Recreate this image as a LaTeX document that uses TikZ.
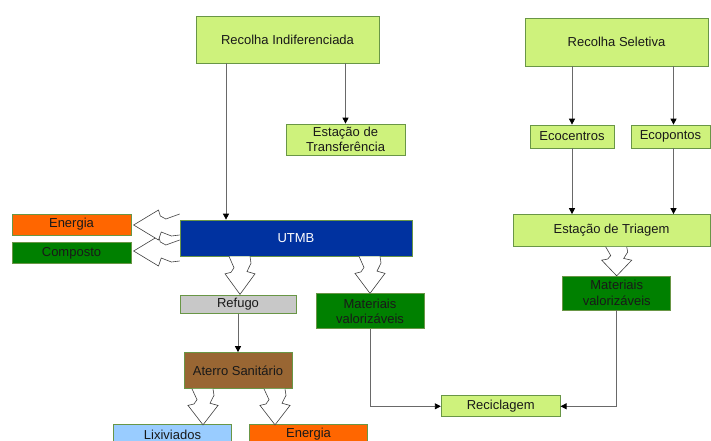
\documentclass[tikz,border=0pt]{standalone}
\usepackage{fontspec}
\setmainfont{Liberation Sans}
\usetikzlibrary{arrows.meta}
\definecolor{lgreen}{RGB}{206,242,124}
\definecolor{bord}{RGB}{105,150,70}
\definecolor{dblue}{RGB}{0,50,160}
\definecolor{orng}{RGB}{255,102,0}
\definecolor{dgreen}{RGB}{0,128,0}
\definecolor{lgray}{RGB}{200,200,200}
\definecolor{brwn}{RGB}{153,102,51}
\definecolor{lblue}{RGB}{153,204,255}
\definecolor{lineg}{RGB}{105,105,105}
\definecolor{txt}{RGB}{25,25,25}
\tikzset{
  box/.style={draw=bord, line width=0.7pt, inner sep=0pt, align=center,
    text=txt, font=\fontsize{13}{15.5}\selectfont},
  conn/.style={draw=lineg, line width=0.8pt,
    -{Triangle[length=6pt,width=6pt,black]}},
  jagline/.style={draw=black!75, line width=0.6pt, fill=white, line join=miter},
  jag/.pic={
    \draw[jagline] (-11,0) -- (-6,{0.30*#1}) -- (-9,{0.42*#1}) -- (-15,{0.46*#1})
      -- (0,#1) -- (15,{0.46*#1}) -- (7,{0.40*#1}) -- (11,{0.18*#1}) -- (10,0);
  }
}
\begin{document}
\begin{tikzpicture}[x=1pt,y=-1pt]
\useasboundingbox (0,0) rectangle (711,441);
% nodes
\node[box, fill=lgreen, minimum width=183pt, minimum height=47pt] (ri) at (287.5,39.5) {Recolha Indiferenciada};
\node[box, fill=lgreen, minimum width=119pt, minimum height=31pt] (et) at (345.5,139.5) {Estação de\\Transferência};
\node[box, fill=lgreen, minimum width=183pt, minimum height=48pt] (rs) at (616.5,42) {Recolha Seletiva};
\node[box, fill=lgreen, minimum width=84pt, minimum height=23pt] (eco) at (572,136.5) {Ecocentros};
\node[box, fill=lgreen, minimum width=79pt, minimum height=23pt] (ecp) at (670.5,136.5) {Ecopontos};
\node[box, fill=lgreen, minimum width=197pt, minimum height=32pt] (tri) at (611.5,230.5) {Estação de Triagem};
\node[box, fill=dgreen, minimum width=108pt, minimum height=34pt] (mv2) at (616.7,293) {Materiais\\valorizáveis};
\node[box, fill=dblue, text=white, minimum width=232pt, minimum height=36pt] (utmb) at (296,238) {UTMB};
\node[box, fill=orng, minimum width=119pt, minimum height=21pt] (en1) at (71.5,224.5) {Energia};
\node[box, fill=dgreen, minimum width=119pt, minimum height=21pt] (comp) at (71.5,253.3) {Composto};
\node[box, fill=lgray, minimum width=116pt, minimum height=18pt] (ref) at (238,304.3) {Refugo};
\node[box, fill=dgreen, minimum width=108pt, minimum height=35pt] (mv1) at (370,311.2) {Materiais\\valorizáveis};
\node[box, fill=brwn, minimum width=108pt, minimum height=36pt] (at) at (238,370.5) {Aterro Sanitário};
\node[box, fill=lblue, minimum width=118pt, minimum height=21pt] (lix) at (172.5,434.5) {Lixiviados};
\node[box, fill=orng, minimum width=118pt, minimum height=21pt] (en2) at (308.5,434.5) {Energia};
\node[box, fill=lgreen, minimum width=119pt, minimum height=21pt] (rec) at (500.7,406.3) {Reciclagem};
% connectors
\draw[conn] ([xshift=-61.5pt]ri.south) -- ([xshift=-61.5pt]ri.south |- utmb.north);
\draw[conn] (ri.south -| et.north) -- (et.north);
\draw[conn] (rs.south -| eco.north) -- (eco.north);
\draw[conn] ([xshift=3pt]rs.south -| ecp.north) -- ([xshift=3pt]ecp.north);
\draw[conn] (eco.south) -- (eco.south |- tri.north);
\draw[conn] ([xshift=3pt]ecp.south) -- ([xshift=3pt]ecp.south |- tri.north);
\draw[conn] (ref.south) -- (ref.south |- at.north);
\draw[conn] (mv1.south) |- (rec.west);
\draw[conn] (mv2.south) |- (rec.east);
% block arrows
\pic at ([xshift=-56pt]utmb.south) {jag=38};
\pic at (utmb.south -| mv1.north) {jag=37};
\pic at (tri.south -| mv2.north) {jag=29};
\pic[rotate=-90] at ([yshift=-13pt]utmb.west) {jag=46};
\pic[rotate=-90] at ([yshift=13pt]utmb.west) {jag=46};
\pic at ([xshift=-35pt]at.south) {jag=36};
\pic at ([xshift=37pt]at.south) {jag=36};
\end{tikzpicture}
\end{document}
